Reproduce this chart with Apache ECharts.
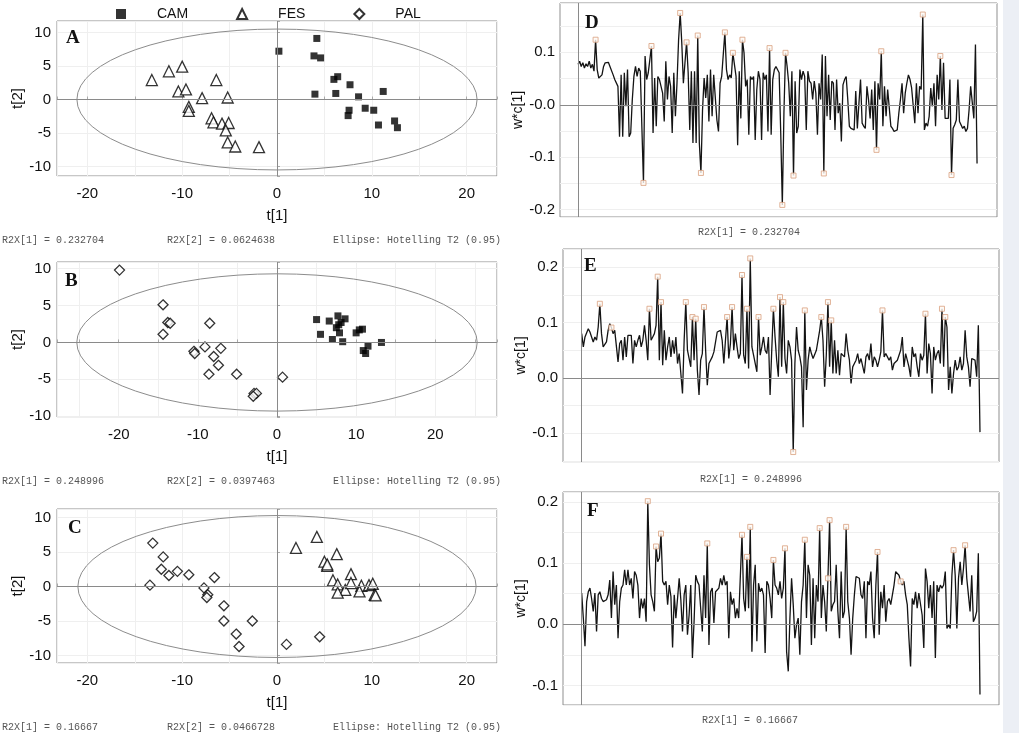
<!DOCTYPE html>
<html>
<head>
<meta charset="utf-8">
<script src="https://cdn.jsdelivr.net/npm/echarts@6/dist/echarts.min.js"></script>
<style>
  html, body { margin: 0; padding: 0; background: #fff; }
  #chart { width: 1019px; height: 733px; }
</style>
</head>
<body>
<div id="chart"></div>
<script>
// score plots, [t1, t2] per sample
const aCam = [[0.2,7.2],[4.2,9.1],[3.9,6.5],[4.6,6.2],[6.0,3.0],[6.4,3.4],[7.7,2.2],[4.0,0.8],[6.2,0.9],
  [8.6,0.4],[11.2,1.2],[7.6,-1.6],[7.5,-2.4],[9.3,-1.3],[10.2,-1.6],[12.4,-3.2],[10.7,-3.8],[12.7,-4.2]];
const aFes = [[-13.2,2.9],[-11.4,4.2],[-10.0,4.9],[-6.4,2.9],[-10.4,1.2],[-9.6,1.5],[-7.9,0.2],[-5.2,0.3],
  [-9.3,-1.1],[-9.3,-1.7],[-6.9,-2.8],[-6.7,-3.4],[-5.8,-3.6],[-5.1,-3.5],[-5.4,-4.6],[-5.2,-6.4],[-4.4,-7.0],[-1.9,-7.1]];
const bPal = [[-19.9,9.8],[-14.4,5.1],[-13.8,2.7],[-13.5,2.6],[-14.4,1.1],[-8.5,2.6],[-9.1,-0.6],[-7.1,-0.8],
  [-10.5,-1.2],[-10.4,-1.5],[-8.0,-1.9],[-7.4,-3.1],[-8.6,-4.3],[-5.1,-4.3],[0.7,-4.7],[-2.9,-6.9],[-2.6,-6.9],[-3.0,-7.3]];
const bCam = [[5.0,3.1],[6.6,2.9],[7.7,3.6],[8.6,3.2],[8.1,2.7],[7.5,2.0],[5.5,1.1],[7.9,1.3],[7.0,0.4],
  [8.3,0.1],[10.0,1.3],[10.4,1.7],[10.8,1.8],[13.2,0.0],[11.5,-0.5],[10.9,-1.1],[11.2,-1.5],[7.8,2.4]];
const cPal = [[-13.1,6.3],[-12.0,4.3],[-12.2,2.5],[-11.4,1.6],[-10.5,2.2],[-9.3,1.7],[-13.4,0.2],[-6.6,1.3],
  [-7.7,-0.2],[-7.3,-1.2],[-7.4,-1.6],[-5.6,-2.8],[-5.6,-5.0],[-2.6,-5.0],[-4.3,-6.9],[-4.0,-8.7],[1.0,-8.4],[4.5,-7.3]];
const cFes = [[2.0,5.6],[4.2,7.2],[6.3,4.7],[5.0,3.6],[5.3,3.0],[5.9,0.9],[7.8,1.8],[6.4,0.3],[7.2,-0.5],
  [6.4,-0.9],[7.8,0.5],[8.9,0.1],[8.7,-0.7],[9.7,0.2],[10.1,0.4],[10.3,-1.2],[10.4,-1.3],[5.3,3.2]];

// Hotelling T2 (0.95) ellipse semi-axes [t1, t2]
const ellA = [21.1, 10.5];
const ellB = [25.3, 9.3];
const ellC = [21.0, 10.3];

// loading line plots w*c[1], one value per variable
const dLoad = [
  0.077,0.083,0.073,0.080,0.070,0.078,0.073,0.083,0.070,0.077,
  0.064,0.124,0.067,0.051,0.049,0.057,0.073,0.080,0.077,0.081,
  0.073,0.070,0.057,0.048,0.051,0.035,-0.061,0.057,-0.061,0.061,
  -0.003,0.067,-0.061,-0.054,0.010,0.054,0.073,0.054,0.070,0.064,
  0.067,-0.149,0.093,0.048,0.061,0.086,0.112,-0.054,0.051,-0.041,
  0.054,0.048,0.051,0.022,-0.032,0.083,0.010,0.054,0.035,-0.054,
  0.061,-0.022,0.041,0.124,0.175,0.118,0.041,0.080,0.119,0.061,
  -0.048,0.064,-0.073,0.064,-0.073,0.132,-0.073,-0.130,-0.010,0.051,
  0.013,0.057,-0.032,0.067,-0.022,0.057,0.054,-0.029,-0.051,0.041,
  0.054,0.051,0.138,0.067,0.048,0.057,0.051,0.099,0.096,0.054,
  -0.077,0.064,-0.026,0.124,0.099,0.035,0.048,-0.057,0.054,0.048,
  0.054,-0.067,0.029,0.064,0.048,-0.067,0.061,0.048,0.057,-0.051,
  0.108,-0.057,0.048,0.067,0.073,0.070,0.061,-0.054,-0.191,-0.016,
  0.099,0.073,0.041,-0.022,0.064,-0.135,0.045,-0.054,-0.041,0.067,
  0.048,0.064,0.054,-0.048,0.064,0.045,0.041,0.010,0.045,0.022,
  -0.057,0.041,0.010,0.096,-0.131,0.093,-0.022,0.057,-0.029,0.045,
  0.041,-0.048,0.048,-0.016,0.003,-0.070,0.038,0.048,0.054,0.010,
  -0.041,-0.045,-0.048,-0.048,0.026,-0.045,0.003,0.048,-0.035,-0.041,
  -0.045,0.035,0.010,-0.026,0.029,-0.048,0.045,-0.086,0.041,0.010,
  0.102,-0.041,0.035,-0.022,0.029,0.032,-0.041,-0.045,-0.051,-0.054,
  -0.048,-0.016,0.010,0.041,-0.016,0.022,0.041,0.057,0.048,0.032,
  0.035,-0.035,0.041,-0.016,0.035,0.029,0.172,-0.048,-0.035,-0.041,
  -0.022,0.032,-0.003,0.041,-0.041,0.057,0.010,0.093,-0.010,0.080,
  -0.026,-0.029,-0.026,0.048,-0.134,-0.045,-0.038,-0.029,0.048,-0.032,
  -0.035,-0.045,-0.041,-0.051,-0.045,-0.010,0.035,0.032,-0.026,0.115,
  -0.112
];
const dMarks = [11,41,46,64,68,75,77,92,97,103,120,128,130,135,154,187,190,216,227,234];

const eLoad = [
  0.080,0.056,0.074,0.071,0.089,0.083,0.080,0.065,0.074,0.068,
  0.092,0.134,0.080,0.056,0.059,0.065,0.086,0.098,0.091,0.080,
  0.086,0.089,0.029,0.062,0.068,0.032,0.074,0.038,0.077,0.074,
  0.077,0.026,0.068,0.056,0.068,0.077,0.056,0.068,0.095,0.068,
  0.032,0.125,0.068,0.074,0.080,0.095,0.183,0.032,0.137,0.023,
  0.086,0.032,0.056,0.074,0.038,0.068,0.044,0.074,0.026,0.044,
  0.047,-0.028,0.068,0.137,0.050,0.047,0.020,0.110,0.032,0.107,
  0.014,-0.031,0.032,0.044,0.128,0.050,-0.013,0.026,0.029,0.038,
  0.047,0.050,0.083,0.080,0.086,0.068,0.026,0.068,0.110,0.035,
  0.062,0.128,0.050,0.080,0.056,0.035,0.044,0.186,0.041,0.026,
  0.125,0.017,0.216,0.056,0.041,0.038,0.011,0.110,0.041,0.056,
  0.074,0.050,0.044,0.074,-0.031,0.050,0.125,0.074,0.032,0.002,
  0.146,0.020,0.137,0.035,0.008,0.068,0.056,0.032,-0.134,0.026,
  0.092,0.050,0.038,0.020,-0.089,0.122,-0.022,0.032,0.056,0.044,
  0.035,0.032,0.050,0.068,0.086,0.110,0.068,-0.016,0.041,0.137,
  0.020,0.104,0.008,0.068,0.008,0.050,0.005,0.044,0.041,0.038,
  0.080,0.050,0.032,-0.010,0.020,0.026,0.032,0.044,0.026,0.035,
  0.038,0.008,0.038,0.044,0.032,0.062,0.020,0.038,0.032,0.020,
  0.032,0.047,0.122,0.038,0.044,0.038,0.032,0.038,0.014,0.026,
  0.023,0.032,0.035,0.050,0.074,0.020,0.044,0.032,0.020,0.002,
  0.056,0.038,0.044,0.020,0.002,0.044,0.032,0.041,0.116,0.008,
  0.062,0.044,-0.028,0.056,0.032,0.044,0.050,0.026,0.125,0.020,
  0.110,0.092,-0.022,0.020,-0.028,0.008,0.032,0.014,0.020,0.038,
  0.014,0.026,0.086,0.038,0.020,-0.016,0.035,0.032,0.032,0.002,
  0.095,-0.098
];
const eMarks = [11,18,41,46,48,63,67,69,74,88,91,97,100,102,107,116,120,122,128,135,145,149,151,182,208,218,220];

const fLoad = [
  0.051,0.010,-0.036,0.037,0.053,0.059,0.042,0.021,0.051,-0.012,
  0.048,0.053,0.042,0.037,0.037,0.040,0.048,0.072,0.010,0.086,
  0.032,0.064,-0.023,0.037,0.059,0.064,0.089,0.064,0.089,0.064,
  0.075,0.042,0.086,0.080,0.064,0.010,0.042,0.026,0.042,0.004,
  0.201,0.097,0.048,0.037,0.021,0.127,0.102,0.108,0.148,0.070,
  0.064,0.070,0.032,0.064,0.045,-0.038,0.048,0.010,0.042,0.075,
  0.040,-0.012,0.048,0.064,-0.017,0.015,0.064,-0.055,0.004,0.080,
  0.070,0.064,0.067,-0.012,0.080,0.010,0.132,-0.034,0.053,0.059,
  0.002,0.053,0.053,0.059,0.075,0.064,0.080,0.064,0.070,-0.023,
  0.053,0.032,0.042,0.010,0.026,0.010,0.013,0.146,0.042,0.021,
  0.110,0.026,0.159,-0.045,0.064,0.097,-0.028,0.067,0.053,0.059,
  0.048,-0.047,0.070,0.064,0.042,0.010,0.105,0.064,0.059,0.048,
  0.070,0.042,0.059,0.124,-0.045,-0.077,0.010,0.075,0.032,-0.023,
  -0.001,0.010,-0.050,0.037,0.064,0.138,0.010,0.097,0.080,-0.034,
  0.075,-0.023,0.064,0.037,0.157,0.010,0.064,0.037,-0.012,0.075,
  0.170,0.021,0.032,0.037,0.097,0.021,-0.023,0.086,0.010,0.021,
  0.159,0.037,0.010,-0.050,0.010,0.048,0.078,0.078,0.075,0.048,
  0.042,0.070,-0.023,0.070,0.064,0.086,0.010,-0.023,0.064,0.118,
  -0.017,0.053,0.026,0.064,0.004,0.037,0.042,0.032,0.048,0.064,
  0.086,0.089,0.080,0.070,0.064,0.070,0.048,0.032,-0.023,-0.069,
  0.042,0.032,0.053,0.026,0.051,0.048,0.015,-0.039,0.091,0.070,
  0.026,0.064,0.010,0.070,-0.055,0.064,0.053,0.064,0.059,0.064,
  0.086,-0.007,-0.001,-0.007,0.080,0.121,0.080,-0.007,0.075,0.102,
  0.064,0.091,0.129,0.075,0.048,0.021,0.080,0.004,0.010,0.021,
  0.116,-0.115
];
const fMarks = [40,45,48,76,97,100,102,116,123,135,144,149,150,160,179,193,225,232];

const r2xNotes = [
  ['R2X[1] = 0.232704', 'R2X[2] = 0.0624638'],
  ['R2X[1] = 0.248996', 'R2X[2] = 0.0397463'],
  ['R2X[1] = 0.16667', 'R2X[2] = 0.0466728']
];

const chart = echarts.init(document.getElementById('chart'));
const FONT = '"Liberation Sans", Arial, sans-serif';

function scoreX(gi, min, max) {
  return {
    gridIndex: gi, type: 'value', min: min, max: max, splitNumber: 9,
    name: 't[1]', nameLocation: 'middle', nameGap: 32,
    nameTextStyle: { fontSize: 15, color: '#111' },
    axisLine: { show: false },
    axisTick: { show: true, inside: true, length: 3, lineStyle: { color: '#aaa' } },
    axisLabel: { fontSize: 15, color: '#111', margin: 10,
      formatter: v => Math.abs(v % 10) < 1e-6 ? String(Math.round(v)) : '' },
    splitLine: { show: true, lineStyle: { color: '#efefef' } }
  };
}
function scoreY(gi, min, max) {
  return {
    gridIndex: gi, type: 'value', min: min, max: max, splitNumber: 5,
    name: 't[2]', nameLocation: 'middle', nameGap: 30, nameRotate: 90,
    nameTextStyle: { fontSize: 15, color: '#111' },
    axisLine: { show: false },
    axisTick: { show: true, inside: true, length: 3, lineStyle: { color: '#aaa' } },
    axisLabel: { fontSize: 15, color: '#111', margin: 6,
      formatter: v => Math.abs(v % 5) < 1e-6 ? String(Math.round(v)) : '' },
    splitLine: { show: true, lineStyle: { color: '#efefef' } }
  };
}
function loadX(gi, min, max) {
  return { gridIndex: gi, type: 'value', min: min, max: max, show: false };
}
function loadY(gi, min, max, negZero) {
  return {
    gridIndex: gi, type: 'value', min: min, max: max, splitNumber: 8,
    name: 'w*c[1]', nameLocation: 'middle', nameGap: 34, nameRotate: 90,
    nameTextStyle: { fontSize: 14, color: '#111' },
    axisLine: { show: false }, axisTick: { show: false },
    axisLabel: { fontSize: 15, color: '#111', margin: 5,
      formatter: v => {
        const r = Math.round(v * 10);
        if (Math.abs(v * 10 - r) > 1e-6) return '';
        if (r === 0) return negZero ? '-0.0' : '0.0';
        return (r / 10).toFixed(1);
      } },
    splitLine: { show: true, lineStyle: { color: '#efefef' } }
  };
}

const zeroLines = {
  silent: true, symbol: 'none', label: { show: false },
  lineStyle: { color: '#8a8a8a', type: 'solid', width: 1 },
  data: [{ xAxis: 0 }, { yAxis: 0 }]
};

function ellipse(gi, semi) {
  return {
    type: 'custom', xAxisIndex: gi, yAxisIndex: gi, silent: true, z: 1,
    data: [[0, 0]],
    renderItem: function (params, api) {
      const c = api.coord([0, 0]);
      const e = api.coord([semi[0], semi[1]]);
      const rx = Math.abs(e[0] - c[0]), ry = Math.abs(c[1] - e[1]);
      const d = 'M' + (c[0] - rx) + ' ' + c[1] +
        ' A' + rx + ' ' + ry + ' 0 1 0 ' + (c[0] + rx) + ' ' + c[1] +
        ' A' + rx + ' ' + ry + ' 0 1 0 ' + (c[0] - rx) + ' ' + c[1] + ' Z';
      return {
        type: 'path',
        shape: { pathData: d, x: c[0] - rx, y: c[1] - ry, width: 2 * rx, height: 2 * ry },
        style: { fill: 'none', stroke: '#8c8c8c', lineWidth: 1 }
      };
    },
    markLine: zeroLines
  };
}

const symStyle = {
  CAM: { symbol: 'rect', symbolSize: 7, itemStyle: { color: '#000' } },
  FES: { symbol: 'triangle', symbolSize: 11, itemStyle: { color: '#fff', borderColor: '#000', borderWidth: 1.3 } },
  PAL: { symbol: 'diamond', symbolSize: 10, itemStyle: { color: '#fff', borderColor: '#000', borderWidth: 1.3 } }
};
function scores(gi, name, pts) {
  return Object.assign({
    type: 'scatter', name: name, xAxisIndex: gi, yAxisIndex: gi, z: 3, data: pts
  }, symStyle[name]);
}

function loadLine(gi, vals) {
  return {
    type: 'line', xAxisIndex: gi, yAxisIndex: gi, showSymbol: false, symbol: 'none',
    data: vals.map((v, i) => [i, v]),
    lineStyle: { color: '#141414', width: 1.3 },
    z: 2, markLine: zeroLines
  };
}
function loadMarks(gi, vals, idx) {
  return {
    type: 'scatter', xAxisIndex: gi, yAxisIndex: gi, symbol: 'rect', symbolSize: 5, z: 3,
    data: idx.map(i => [i, vals[i]]),
    itemStyle: { color: '#fffaf5', borderColor: '#d9a07f', borderWidth: 1 }
  };
}

const gridBase = { show: true, borderColor: '#8f8f8f', borderWidth: 1, backgroundColor: '#fff' };

const graphic = [
  { type: 'rect', shape: { x: 1003, y: 0, width: 16, height: 733 }, style: { fill: '#eceff5' }, z: 0 }
];
const letters = [['A', 66, 29], ['B', 65, 272], ['C', 68, 519], ['D', 585, 14], ['E', 584, 257], ['F', 587, 502]];
letters.forEach(l => graphic.push({
  type: 'text', left: l[1], top: l[2], z: 10,
  style: { text: l[0], font: 'bold 19px "Liberation Serif", "Times New Roman", serif', fill: '#111' }
}));
const noteY = [235, 476, 722];
r2xNotes.forEach((n, k) => {
  [[n[0], 2], [n[1], 167], ['Ellipse: Hotelling T2 (0.95)', 333]].forEach(t => graphic.push({
    type: 'text', left: t[1], top: noteY[k], z: 10,
    style: { text: t[0], font: '10px "Liberation Mono", "Courier New", monospace', fill: '#555' }
  }));
});
[[r2xNotes[0][0], 698, 227], [r2xNotes[1][0], 700, 474], [r2xNotes[2][0], 702, 715]].forEach(t => graphic.push({
  type: 'text', left: t[1], top: t[2], z: 10,
  style: { text: t[0], font: '10px "Liberation Mono", "Courier New", monospace', fill: '#555' }
}));

chart.setOption({
  animation: false,
  backgroundColor: '#fff',
  textStyle: { fontFamily: FONT },
  legend: {
    data: ['CAM', 'FES', 'PAL'], top: 2, left: 111,
    itemWidth: 10, itemHeight: 10, itemGap: 48,
    textStyle: { fontSize: 14, color: '#111', padding: [0, 0, 0, 26] }
  },
  grid: [
    Object.assign({ left: 57, top: 21, width: 440, height: 155 }, gridBase),
    Object.assign({ left: 57, top: 262, width: 440, height: 155 }, gridBase),
    Object.assign({ left: 57, top: 509, width: 440, height: 154 }, gridBase),
    Object.assign({ left: 560, top: 3, width: 437, height: 214 }, gridBase),
    Object.assign({ left: 563, top: 249, width: 436, height: 213 }, gridBase),
    Object.assign({ left: 563, top: 492, width: 436, height: 213 }, gridBase)
  ],
  xAxis: [
    scoreX(0, -23.2, 23.2), scoreX(1, -27.8, 27.8), scoreX(2, -23.2, 23.2),
    loadX(3, -11.3, 262.5), loadX(4, -11.3, 252.5), loadX(5, -11.3, 252.5)
  ],
  yAxis: [
    scoreY(0, -11.4, 11.7), scoreY(1, -10.1, 10.9), scoreY(2, -11.1, 11.25),
    loadY(3, -0.214, 0.194, true), loadY(4, -0.152, 0.233, false), loadY(5, -0.132, 0.216, false)
  ],
  series: [
    ellipse(0, ellA), scores(0, 'CAM', aCam), scores(0, 'FES', aFes),
    ellipse(1, ellB), scores(1, 'PAL', bPal), scores(1, 'CAM', bCam),
    ellipse(2, ellC), scores(2, 'PAL', cPal), scores(2, 'FES', cFes),
    loadLine(3, dLoad), loadMarks(3, dLoad, dMarks),
    loadLine(4, eLoad), loadMarks(4, eLoad, eMarks),
    loadLine(5, fLoad), loadMarks(5, fLoad, fMarks)
  ],
  graphic: graphic
});
</script>
</body>
</html>
